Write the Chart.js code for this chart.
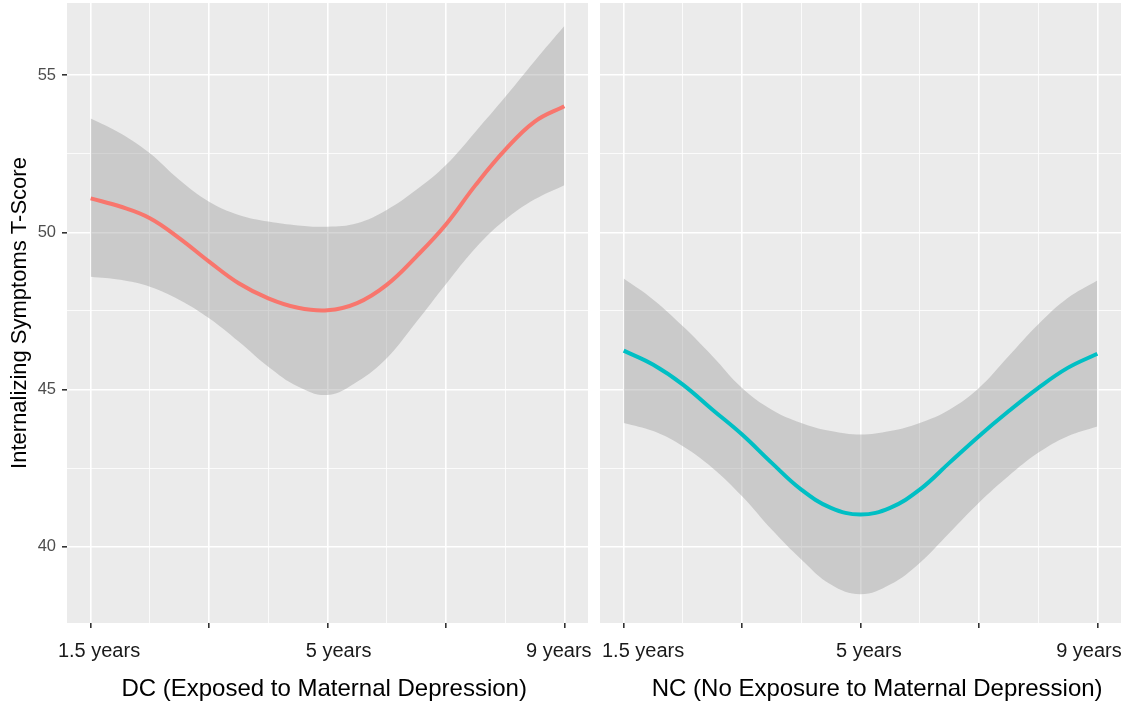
<!DOCTYPE html>
<html>
<head>
<meta charset="utf-8">
<script src="https://cdn.jsdelivr.net/npm/chart.js@4.4.0/dist/chart.umd.min.js"></script>
<style>
  html, body { margin: 0; padding: 0; background: #fff; }
  #wrap { position: relative; width: 1131px; height: 704px; }
  #wrap canvas { position: absolute; left: 0; top: 0; }
</style>
</head>
<body>
<div id="wrap">
  <canvas id="dc" width="1131" height="704"></canvas>
  <canvas id="nc" width="1131" height="704"></canvas>
</div>
<script>
// time points: 1 = 1.5 years, 2 = 5 years, 3 = 9 years
const waves = [1, 2, 3]
const waveLabels = ['1.5 years', '5 years', '9 years']
const xs = [1, 1.125, 1.25, 1.375, 1.5, 1.625, 1.75, 1.875, 2,
  2.125, 2.25, 2.375, 2.5, 2.625, 2.75, 2.875, 3]
const xBreaks = [1, 1.25, 1.5, 1.75, 2, 2.25, 2.5, 2.75, 3]
const yBreaks = [40, 42.5, 45, 47.5, 50, 52.5, 55]
const yLabels = [40, 45, 50, 55]

// DC group (exposed)
const dcFit = [51.08, 50.82, 50.45, 49.81, 49.07, 48.38, 47.90, 47.60, 47.52,
  47.75, 48.33, 49.23, 50.25, 51.50, 52.62, 53.52, 54.01]
const dcUpper = [53.62, 53.15, 52.51, 51.66, 50.97, 50.55, 50.34, 50.22, 50.18,
  50.29, 50.71, 51.35, 52.14, 53.20, 54.30, 55.45, 56.56]
const dcLower = [48.59, 48.49, 48.27, 47.85, 47.27, 46.53, 45.73, 45.10, 44.83,
  45.25, 46.00, 47.15, 48.35, 49.50, 50.40, 51.05, 51.50]

// NC group (no exposure)
const ncFit = [46.24, 45.79, 45.16, 44.36, 43.57, 42.67, 41.82, 41.24, 41.03,
  41.24, 41.82, 42.67, 43.52, 44.31, 45.05, 45.69, 46.14]
const ncUpper = [48.53, 47.86, 47.01, 46.06, 45.05, 44.36, 43.94, 43.68, 43.57,
  43.68, 43.94, 44.36, 45.05, 46.06, 47.07, 47.91, 48.47]
const ncLower = [43.94, 43.68, 43.20, 42.51, 41.61, 40.55, 39.60, 38.80, 38.49,
  38.80, 39.49, 40.44, 41.40, 42.25, 42.99, 43.52, 43.83]

Chart.defaults.font.family = '"Liberation Sans", Arial, sans-serif'

const panelBg = {
  id: 'panelBg',
  beforeDraw(chart) {
    const { ctx, chartArea: a } = chart
    ctx.save()
    ctx.fillStyle = '#EBEBEB'
    ctx.fillRect(a.left, a.top, a.width, a.height)
    ctx.restore()
  },
}

const pts = ys => xs.map((x, i) => ({ x, y: ys[i] }))
const isMajorX = v => Math.abs(v * 2 - Math.round(v * 2)) < 1e-6
const isMajorY = v => yLabels.includes(v)
const noPad = s => { s.paddingLeft = s.paddingRight = s.paddingTop = s.paddingBottom = 0 }

// labels in the original sit a little off their ticks; nudge with spaces
const nudge = (text, n) => n > 0 ? ' '.repeat(n) + text : text + ' '.repeat(-n)

function usePanel(id, fit, upper, lower, color, title, isLeft, shifts) {
  return new Chart(document.getElementById(id), {
    type: 'line',
    data: {
      datasets: [
        {
          data: pts(fit),
          borderColor: color,
          borderWidth: 4,
          pointRadius: 0,
          tension: 0.4,
          fill: false,
        },
        {
          data: pts(upper),
          borderWidth: 0,
          borderColor: 'rgba(0,0,0,0)',
          backgroundColor: 'rgba(153,153,153,0.4)',
          pointRadius: 0,
          tension: 0.4,
          fill: '+1',
        },
        {
          data: pts(lower),
          borderWidth: 0,
          borderColor: 'rgba(0,0,0,0)',
          pointRadius: 0,
          tension: 0.4,
          fill: false,
        },
      ],
    },
    options: {
      responsive: false,
      animation: false,
      devicePixelRatio: 1,
      layout: {
        padding: isLeft
          ? { left: 0, top: 3, right: 543, bottom: 0 }
          : { left: 594, top: 3, right: 10, bottom: 0 },
      },
      plugins: {
        legend: { display: false },
        tooltip: { enabled: false },
      },
      scales: {
        x: {
          type: 'linear',
          min: 0.9,
          max: 3.1,
          afterBuildTicks: s => { s.ticks = xBreaks.map(value => ({ value })) },
          afterFit: s => { s.height = 81; noPad(s) },
          border: { display: false },
          grid: {
            color: '#FFFFFF',
            lineWidth: c => isMajorX(c.tick.value) ? 1.6 : 0.8,
            tickColor: c => isMajorX(c.tick.value) ? '#333333' : 'rgba(0,0,0,0)',
            tickWidth: 1.6,
            tickLength: 5,
          },
          ticks: {
            autoSkip: false,
            maxRotation: 0,
            padding: 11,
            color: '#1A1A1A',
            font: { size: 20 },
            callback: v => {
              const i = waves.indexOf(v)
              return i >= 0 ? nudge(waveLabels[i], shifts[i]) : ''
            },
          },
          title: {
            display: true,
            text: nudge(title, shifts[3]),
            color: '#000000',
            font: { size: 24 },
            padding: { top: 0, bottom: 0 },
          },
        },
        y: {
          min: 37.58,
          max: 57.29,
          afterBuildTicks: s => { s.ticks = yBreaks.map(value => ({ value })) },
          afterFit: s => { s.width = isLeft ? 67 : 6; noPad(s) },
          border: { display: false },
          grid: {
            color: '#FFFFFF',
            lineWidth: c => isMajorY(c.tick.value) ? 1.6 : 0.8,
            tickColor: c => isMajorY(c.tick.value) ? '#333333' : 'rgba(0,0,0,0)',
            tickWidth: 1.6,
            tickLength: 5,
            drawTicks: isLeft,
          },
          ticks: {
            display: isLeft,
            padding: 6,
            color: '#4D4D4D',
            font: { size: 16.5 },
            callback: v => isMajorY(v) ? String(v) : '',
          },
          title: {
            display: isLeft,
            text: 'Internalizing Symptoms T-Score',
            color: '#000000',
            font: { size: 22 },
            padding: { top: 7, bottom: 0 },
          },
        },
      },
    },
    plugins: [panelBg],
  })
}

usePanel('dc', dcFit, dcUpper, dcLower, '#F8766D', 'DC (Exposed to Maternal Depression)', true, [3, 4, -2, -1])
usePanel('nc', ncFit, ncUpper, ncLower, '#00BFC4', 'NC (No Exposure to Maternal Depression)', false, [7, 3, -3, 5])
</script>
</body>
</html>
